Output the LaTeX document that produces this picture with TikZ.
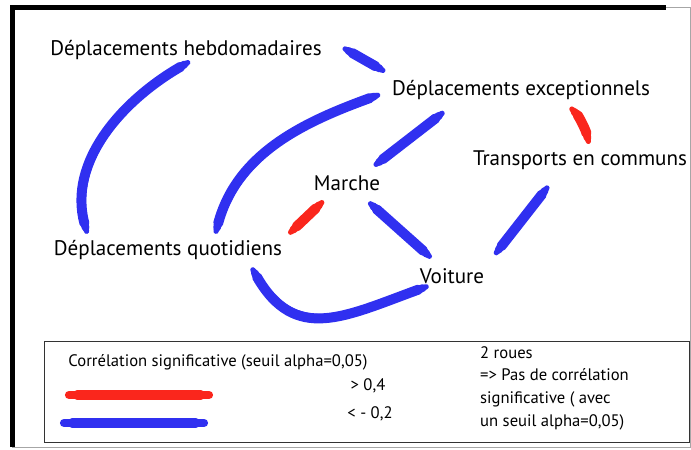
\documentclass[tikz,border=0pt]{standalone}
\usepackage{fontspec}
\setmainfont{PT Sans}
\definecolor{corrneg}{RGB}{48,48,240}
\definecolor{corrpos}{RGB}{250,38,28}
\begin{document}
\begin{tikzpicture}[x=0.03cm, y=0.03cm,
    lab/.style={inner sep=0pt, outer sep=0pt, font=\fontsize{18}{21}\selectfont},
    leg/.style={inner sep=0pt, font=\fontsize{14.2}{19.3}\selectfont},
    brush/.style n args={3}{draw=#1, line width=4.5pt, line cap=round, shorten <=#2, shorten >=#3,
      postaction={draw=#1, line width=6.5pt, line cap=round, shorten <=#2+3pt, shorten >=#3+3pt},
      postaction={draw=#1, line width=8.5pt, line cap=round, shorten <=#2+7pt, shorten >=#3+7pt}},
    negc/.style 2 args={brush={corrneg}{#1}{#2}},
    posc/.style 2 args={brush={corrpos}{#1}{#2}}]
  \useasboundingbox (0,0) rectangle (691,-450);
  % frame
  \draw[line width=0.15cm] (12,-447) -- (12,-7.5) -- (666,-7.5);
  \draw[gray!70, line width=0.8pt] (666,-7.5) -- (690,-7.5) -- (690,-447) -- (12,-447);
  % variables
  \node[lab] (heb) at (186,-50) {Déplacements hebdomadaires};
  \node[lab] (exc) at (521,-90) {Déplacements exceptionnels};
  \node[lab] (tra) at (580,-160) {Transports en communs};
  \node[lab] (mar) at (347,-183) {Marche};
  \node[lab] (quo) at (168,-250) {Déplacements quotidiens};
  \node[lab] (voi) at (452,-276) {Voiture};
  % correlations
  \draw[negc={23pt}{9pt}] ([yshift=4pt]heb.north east) -- ([yshift=4pt]exc.north west);
  \draw[negc={5pt}{8pt}] (heb.305) to[out=210, in=105] (quo.173);
  \draw[negc={13pt}{8pt}] (exc.west) to[out=200, in=75] (quo.12);
  \draw[negc={19pt}{15.5pt}] (exc.189) -- (mar.27);
  \draw[posc={11pt}{8pt}] (exc.347) to[bend left=15] (tra.42);
  \draw[posc={15pt}{10pt}] (mar.211) -- (quo.north east);
  \draw[negc={17pt}{15.5pt}] (mar.319) -- (voi.140);
  \draw[negc={20pt}{17pt}] (tra.207) -- (voi.north east);
  \draw[negc={10pt}{8pt}] (quo.353) to[out=300, in=200, looseness=1.3] (voi.204);
  % legend
  \draw[gray!40!black, line width=0.8pt] (44,-341) rectangle (689,-442);
  \foreach \col/\y/\x in {corrpos/395/65, corrneg/423/60}
    \draw[brush={\col}{0pt}{0pt}, line width=7pt, postaction={line width=9pt}, postaction={line width=11pt}] (\x+4,-\y) -- (\x+144,-\y);
  \node[leg] (cap) at (218,-362) {Corrélation significative (seuil alpha=0,05)};
  \node[leg] (gt) at (368,-386) {> 0,4};
  \node[leg] (lt) at (370,-414) {< - 0,2};
  \node[leg, anchor=west, align=left] (roues) at (480,-388) {2 roues\\=> Pas de corrélation\\significative ( avec\\un seuil alpha=0,05)};
\end{tikzpicture}
\end{document}
